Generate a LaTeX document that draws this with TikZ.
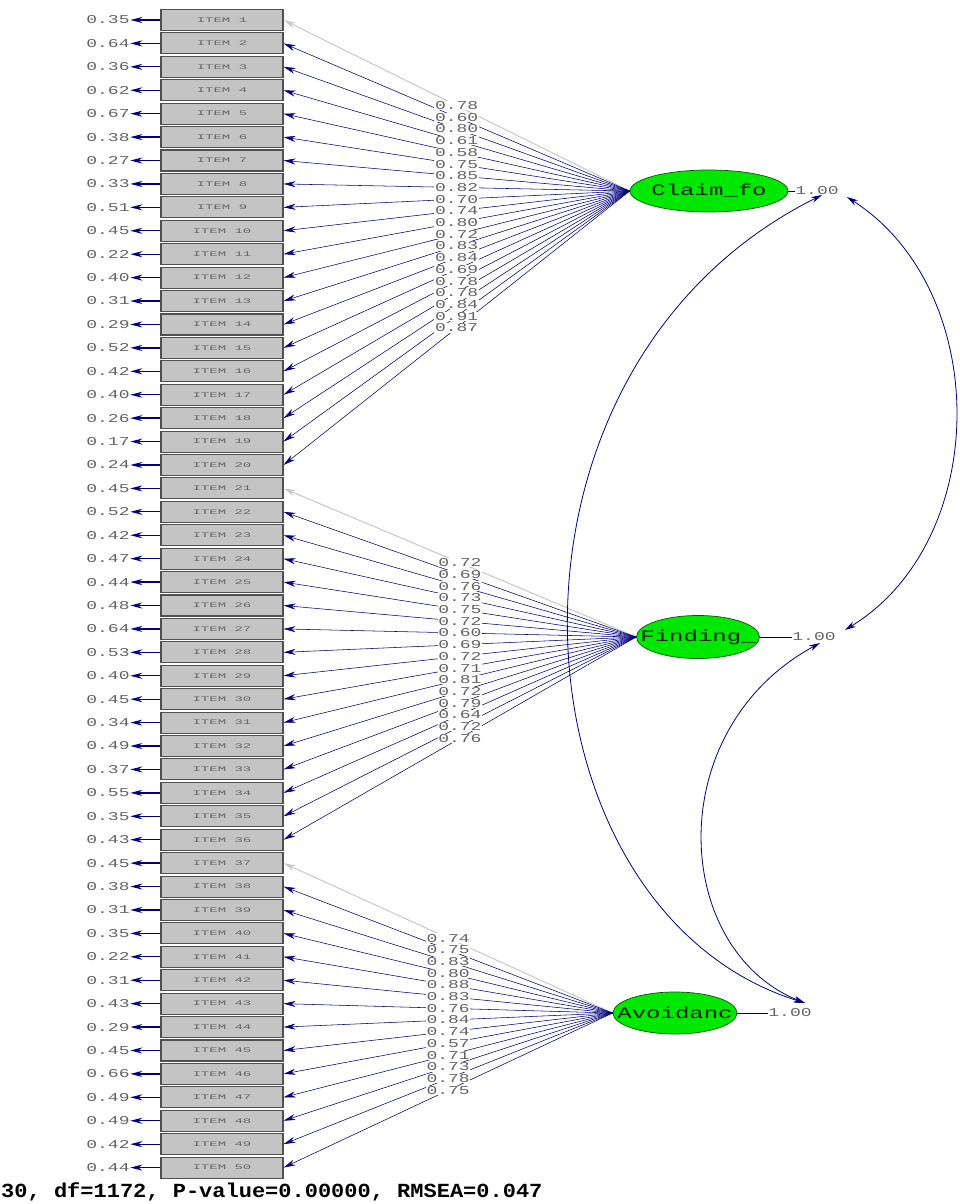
\documentclass[tikz,border=0pt]{standalone}
\usepackage{fontspec}
\usetikzlibrary{arrows.meta,shapes.geometric}
\newfontfamily\numfont[FakeStretch=1.5]{Liberation Mono}
\newfontfamily\itemfont[FakeStretch=2.0]{Liberation Mono}
\newfontfamily\latfont[FakeStretch=1.5]{Liberation Mono}
\newfontfamily\fitfont[FakeStretch=1.1]{Liberation Mono}
\definecolor{pathblue}{RGB}{0,0,128}
\definecolor{boxfill}{RGB}{196,196,196}
\definecolor{boxline}{RGB}{80,80,80}
\definecolor{numgray}{RGB}{100,100,100}
\definecolor{latgreen}{RGB}{0,232,0}
\definecolor{latline}{RGB}{0,90,0}
\definecolor{fixedgray}{RGB}{200,200,200}
\tikzset{
  itembox/.style={draw=boxline,line width=1.1pt,fill=boxfill,rectangle,
    minimum width=122pt,minimum height=21pt,inner sep=0pt,
    font=\itemfont\fontsize{7}{7}\selectfont,text=gray!80!black},
  errlab/.style={font=\numfont\fontsize{12}{12}\selectfont,text=numgray,inner sep=0.5pt},
  loadlab/.style={font=\numfont\fontsize{12}{12}\selectfont,text=numgray,fill=white,inner sep=0.6pt},
  varlab/.style={font=\numfont\fontsize{12}{12}\selectfont,text=numgray,inner sep=0.5pt},
  latent/.style={ellipse,draw=latline,line width=0.7pt,fill=latgreen,inner sep=0pt,
    font=\latfont\fontsize{16}{16}\selectfont,text=black!85!green},
  errarrow/.style={pathblue,line width=1.3pt,-{Stealth[length=12pt,width=6pt]}},
  load/.style={pathblue,line width=0.55pt,-{Stealth[length=12pt,width=6pt]}},
  fixedload/.style={fixedgray,line width=1pt,-{Stealth[length=12pt,width=6pt]}},
  varline/.style={pathblue!70!black,line width=0.7pt},
  cov/.style={pathblue,line width=0.8pt,{Stealth[length=11pt,width=6pt]}-{Stealth[length=11pt,width=6pt]}}
}
\begin{document}
\begin{tikzpicture}[x=1pt,y=-1pt]
\useasboundingbox (0,0) rectangle (960,1204);

% observed indicators with their error variances
\foreach \e [count=\i] in {0.35,0.64,0.36,0.62,0.67,0.38,0.27,0.33,0.51,0.45,
                           0.22,0.40,0.31,0.29,0.52,0.42,0.40,0.26,0.17,0.24,
                           0.45,0.52,0.42,0.47,0.44,0.48,0.64,0.53,0.40,0.45,
                           0.34,0.49,0.37,0.55,0.35,0.43,0.45,0.38,0.31,0.35,
                           0.22,0.31,0.43,0.29,0.45,0.66,0.49,0.49,0.42,0.44}{
  \node[itembox] (i\i) at (222,{20+(\i-1)*23.42}) {\raisebox{-2.5pt}{ITEM \i}};
  \node[errlab] (e\i) at (108,{20+(\i-1)*23.42}) {\e};
  \draw[errarrow] (i\i.west) -- (e\i.east);
}

% latent factors
\node[latent,minimum width=158pt,minimum height=42pt] (claim) at (709,191) {\makebox[0pt]{Claim\_fo}};
\node[latent,minimum width=123pt,minimum height=43pt] (find) at (698,637) {\makebox[0pt]{Finding\_}};
\node[latent,minimum width=124pt,minimum height=42pt] (avoid) at (675,1013) {\makebox[0pt]{Avoidanc}};

% factor variances
\node[varlab] (v1) at (817,191) {1.00};
\node[varlab] (v2) at (814,637) {1.00};
\node[varlab] (v3) at (790,1013) {1.00};
\draw[varline] (claim.east) -- (v1.west);
\draw[varline] (find.east) -- (v2.west);
\draw[varline] (avoid.east) -- (v3.west);

% loadings: lines first, values on top
\foreach \l [count=\k] in {0.78,0.60,0.80,0.61,0.58,0.75,0.85,0.82,0.70,0.74,
                           0.80,0.72,0.83,0.84,0.69,0.78,0.78,0.84,0.91,0.87}{
  \ifnum\k=1 \def\st{fixedload}\else\def\st{load}\fi
  \draw[\st] (claim.west) -- (i\k.east);
}
\foreach \l [count=\k] in {0.72,0.69,0.76,0.73,0.75,0.72,0.60,0.69,
                           0.72,0.71,0.81,0.72,0.79,0.64,0.72,0.76}{
  \pgfmathtruncatemacro\n{\k+20}
  \ifnum\k=1 \def\st{fixedload}\else\def\st{load}\fi
  \draw[\st] (find.west) -- (i\n.east);
}
\foreach \l [count=\k] in {0.74,0.75,0.83,0.80,0.88,0.83,0.76,
                           0.84,0.74,0.57,0.71,0.73,0.78,0.75}{
  \pgfmathtruncatemacro\n{\k+36}
  \ifnum\k=1 \def\st{fixedload}\else\def\st{load}\fi
  \draw[\st] (avoid.west) -- (i\n.east);
}
\foreach \l [count=\k] in {0.78,0.60,0.80,0.61,0.58,0.75,0.85,0.82,0.70,0.74,
                           0.80,0.72,0.83,0.84,0.69,0.78,0.78,0.84,0.91,0.87}{
  \path (claim.west) -- (i\k.east) node[loadlab,pos=0.5] {\l};
}
\foreach \l [count=\k] in {0.72,0.69,0.76,0.73,0.75,0.72,0.60,0.69,
                           0.72,0.71,0.81,0.72,0.79,0.64,0.72,0.76}{
  \pgfmathtruncatemacro\n{\k+20}
  \path (find.west) -- (i\n.east) node[loadlab,pos=0.5] {\l};
}
\foreach \l [count=\k] in {0.74,0.75,0.83,0.80,0.88,0.83,0.76,
                           0.84,0.74,0.57,0.71,0.73,0.78,0.75}{
  \pgfmathtruncatemacro\n{\k+36}
  \path (avoid.west) -- (i\n.east) node[loadlab,pos=0.5] {\l};
}

% factor covariances
\coordinate (cA) at (822,195);
\coordinate (cB) at (847,197);
\coordinate (fB) at (845,630);
\coordinate (fC) at (820,643);
\coordinate (aA) at (805,1003);
\draw[cov] (cA) .. controls (470,370) and (505,910) .. (aA);
\draw[cov] (cB) .. controls (992,290) and (992,540) .. (fB);
\draw[cov] (fC) .. controls (660,730) and (672,950) .. (aA);

% fit statistics
\node[anchor=west,inner sep=0pt,font=\fitfont\bfseries\fontsize{20}{20}\selectfont] (fit) at (1,1192)
  {30, df=1172, P-value=0.00000, RMSEA=0.047};
\end{tikzpicture}
\end{document}
